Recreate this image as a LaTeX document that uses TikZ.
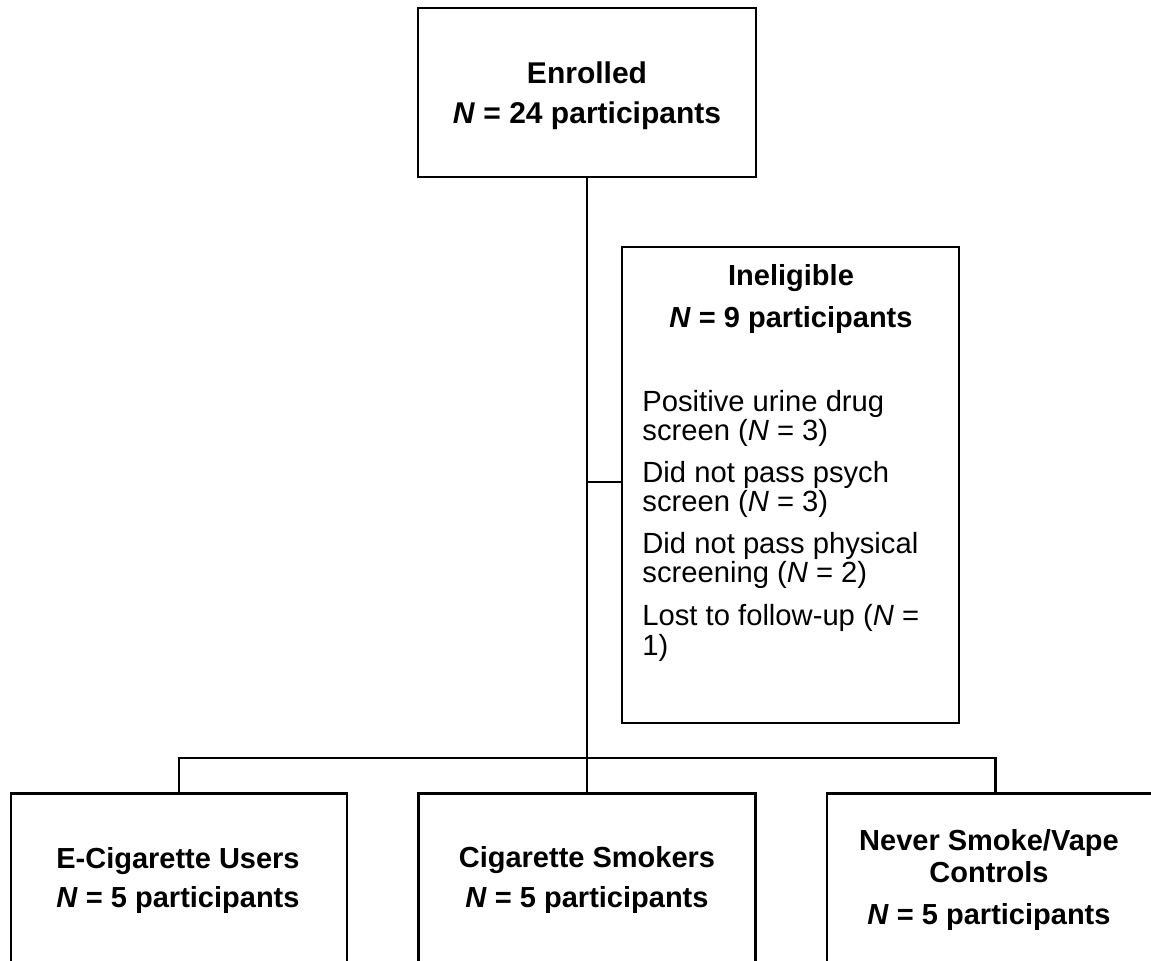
\documentclass[tikz,border=0pt]{standalone}
\usepackage{fontspec}
\setmainfont{Liberation Sans}
\begin{document}
\begin{tikzpicture}[x=0.5pt,y=-0.5pt,
  box/.style={draw,line width=1.2pt,inner sep=0pt},
  link/.style={line width=1.2pt},
  title/.style={anchor=base,font=\fontsize{14.5}{17}\selectfont\bfseries,inner sep=0pt},
  bigtitle/.style={title,font=\fontsize{15}{18}\selectfont\bfseries},
  item/.style={anchor=base west,font=\fontsize{14.6}{17}\selectfont,inner sep=0pt}]
\useasboundingbox (0,0) rectangle (1151,960);
\clip (0,0) rectangle (1151,960);
% boxes
\node[box,minimum width=169pt,minimum height=84.5pt] (enr) at (587,92.5) {};
\node[box,minimum width=168.5pt,minimum height=238pt] (inel) at (790.5,485) {};
\node[box,minimum width=168pt,minimum height=150pt] (ecig) at (179,943.5) {};
\node[box,minimum width=168.5pt,minimum height=150pt] (cig) at (587,943.5) {};
\node[box,minimum width=168.5pt,minimum height=150pt] (never) at (995.5,943.5) {};
% texts
\node[bigtitle] (t1) at (587,83) {Enrolled};
\node[bigtitle] (t2) at (587,123) {\textit{N} = 24 participants};
\node[title] (t3) at (791,285) {Ineligible};
\node[title] (t4) at (791,327) {\textit{N} = 9 participants};
\node[item] (i1) at (642,411) {Positive urine drug};
\node[item] (i2) at (642,440) {screen (\textit{N} = 3)};
\node[item] (i3) at (642,482) {Did not pass psych};
\node[item] (i4) at (642,511) {screen (\textit{N} = 3)};
\node[item] (i5) at (642,553) {Did not pass physical};
\node[item] (i6) at (642,582) {screening (\textit{N} = 2)};
\node[item] (i7) at (642,625) {Lost to follow-up (\textit{N} =};
\node[item] (i8) at (642,655) {1)};
\node[title] (b1) at (178,868) {E-Cigarette Users};
\node[title] (b2) at (178,907) {\textit{N} = 5 participants};
\node[title] (c1) at (587,867) {Cigarette Smokers};
\node[title] (c2) at (587,907) {\textit{N} = 5 participants};
\node[title] (n1) at (989,850) {Never Smoke/Vape};
\node[title] (n2) at (989,882) {Controls};
\node[title] (n3) at (989,924) {\textit{N} = 5 participants};
% connectors
\coordinate (junc) at (587,758);
\coordinate (br) at (587,482);
\draw[link] (enr.south) -- (junc);
\draw[link] (br) -- (inel.west |- br);
\draw[link] (ecig.north) -- (ecig.north |- junc) -- (never.north |- junc) -- (never.north);
\draw[link] (junc) -- (cig.north);
\end{tikzpicture}
\end{document}
